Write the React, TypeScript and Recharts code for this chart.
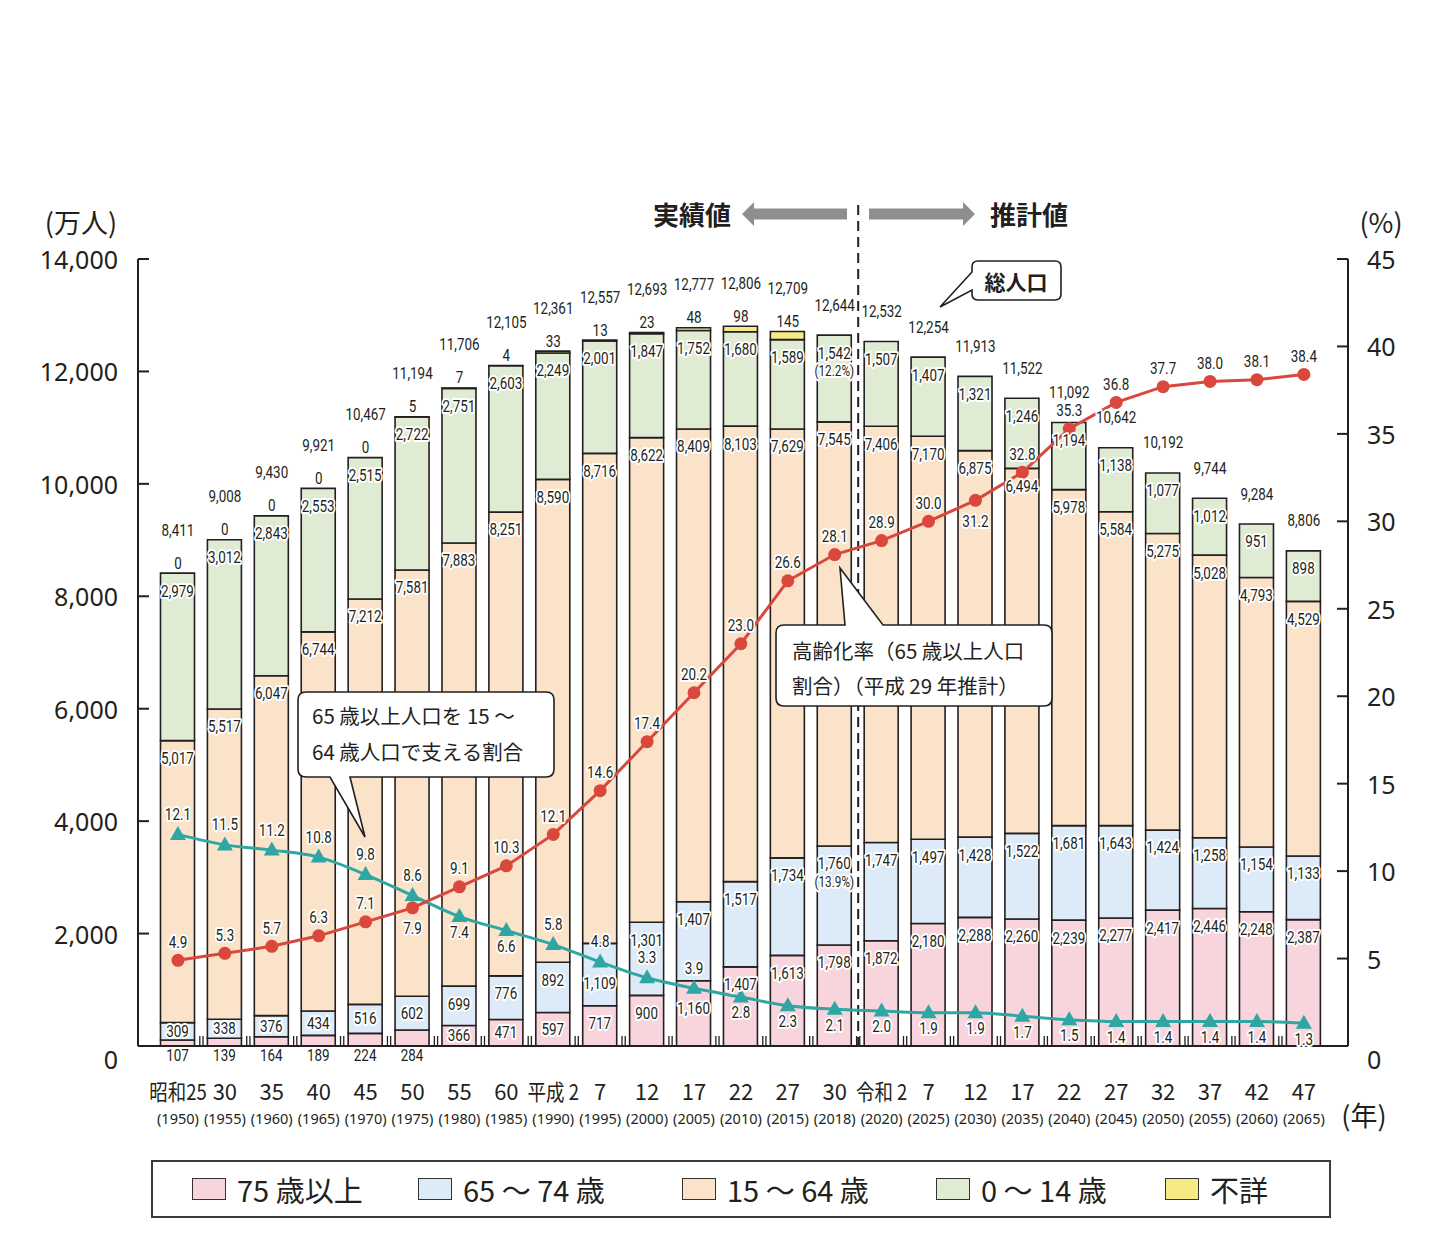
import React from 'react'
import { ComposedChart, Bar, Line, XAxis, YAxis, LabelList, ReferenceLine } from 'recharts'

// categories
const years = ['1950', '1955', '1960', '1965', '1970', '1975', '1980', '1985', '1990', '1995', '2000', '2005', '2010', '2015', '2018', '2020', '2025', '2030', '2035', '2040', '2045', '2050', '2055', '2060', '2065']
const eraLabels = ['昭和25', '30', '35', '40', '45', '50', '55', '60', '平成 2', '7', '12', '17', '22', '27', '30', '令和 2', '7', '12', '17', '22', '27', '32', '37', '42', '47']

// population (万人)
const over75 = [107, 139, 164, 189, 224, 284, 366, 471, 597, 717, 900, 1160, 1407, 1613, 1798, 1872, 2180, 2288, 2260, 2239, 2277, 2417, 2446, 2387, 2248]
const age65to74 = [309, 338, 376, 434, 516, 602, 699, 776, 892, 1109, 1301, 1407, 1517, 1734, 1760, 1747, 1497, 1428, 1522, 1681, 1643, 1424, 1258, 1154, 1133]
const age15to64 = [5017, 5517, 6047, 6744, 7212, 7581, 7883, 8251, 8590, 8716, 8622, 8409, 8103, 7629, 7545, 7406, 7170, 6875, 6494, 5978, 5584, 5275, 5028, 4793, 4529]
const age0to14 = [2979, 3012, 2843, 2553, 2515, 2722, 2751, 2603, 2249, 2001, 1847, 1752, 1680, 1589, 1542, 1507, 1407, 1321, 1246, 1194, 1138, 1077, 1012, 951, 898]
const unknownAge = [0, 0, 0, 0, 0, 5, 7, 4, 33, 13, 23, 48, 98, 145, null, null, null, null, null, null, null, null, null, null, null]
const totals = [8411, 9008, 9430, 9921, 10467, 11194, 11706, 12105, 12361, 12557, 12693, 12777, 12806, 12709, 12644, 12532, 12254, 11913, 11522, 11092, 10642, 10192, 9744, 9284, 8806]

// ratios (%)
const agingRate = [4.9, 5.3, 5.7, 6.3, 7.1, 7.9, 9.1, 10.3, 12.1, 14.6, 17.4, 20.2, 23.0, 26.6, 28.1, 28.9, 30.0, 31.2, 32.8, 35.3, 36.8, 37.7, 38.0, 38.1, 38.4]
const supportRatio = [12.1, 11.5, 11.2, 10.8, 9.8, 8.6, 7.4, 6.6, 5.8, 4.8, 3.9, 3.3, 2.8, 2.3, 2.1, 2.0, 1.9, 1.9, 1.7, 1.5, 1.4, 1.4, 1.4, 1.4, 1.3]

// notes printed under some values
const notes0to14: Record<number, string> = { 14: '(12.2%)' }
const notes65to74: Record<number, string> = { 14: '(13.9%)' }
// label texts as printed in the source where they differ from the plotted value
const printedText: Record<string, string> = { 'over75-23': '2,248', 'over75-24': '2,387', 'support-10': '3.3', 'support-11': '3.9' }

const leftTicks = [0, 2000, 4000, 6000, 8000, 10000, 12000, 14000]
const rightTicks = [0, 5, 10, 15, 20, 25, 30, 35, 40, 45]

const data = years.map((year, i) => ({
  year,
  over75: over75[i],
  age65to74: age65to74[i],
  age15to64: age15to64[i],
  age0to14: age0to14[i],
  unknownAge: unknownAge[i],
  total: totals[i],
  aging: agingRate[i],
  support: supportRatio[i],
}))

const series = [
  { key: 'over75', name: '75 歳以上', color: '#f8d4dc', notes: {} as Record<number, string>, legendWidth: 226 },
  { key: 'age65to74', name: '65 ～ 74 歳', color: '#dcebf7', notes: notes65to74, legendWidth: 264 },
  { key: 'age15to64', name: '15 ～ 64 歳', color: '#fbe3ca', notes: {} as Record<number, string>, legendWidth: 254 },
  { key: 'age0to14', name: '0 ～ 14 歳', color: '#dfebd2', notes: notes0to14, legendWidth: 229 },
  { key: 'unknownAge', name: '不詳', color: '#f6ea84', notes: {} as Record<number, string>, legendWidth: 120 },
]

const INK = '#231f20'
const RED = '#d9473d'
const TEAL = '#2ea6a3'
const JP = "'Noto Sans CJK JP', 'Noto Sans', sans-serif"
const AXIS = "'Noto Sans', 'Noto Sans CJK JP', sans-serif"
const NUM = "Roboto, 'Noto Sans', sans-serif"

const W = 1444
const H = 1254
const PLOT_L = 138
const PLOT_R = 1348
const PAD_L = 16.5
const PAD_R = 20.7
const BAND = (PLOT_R - PLOT_L - PAD_L - PAD_R) / years.length

const belowAging = new Set([5, 17])
const belowSupport = new Set([6, 7, 12, 13, 14, 15, 16, 17, 18, 19, 20, 21, 22, 23, 24])
const extraDrop: Record<string, number> = { 'age65to74-9': 22, 'over75-11': 10 }

function box(props: any) {
  const vb = props.viewBox || {}
  return {
    x: props.x ?? vb.x ?? 0,
    y: props.y ?? vb.y ?? 0,
    width: props.width ?? vb.width ?? 0,
    height: props.height ?? vb.height ?? 0,
  }
}

// condensed number label with a white halo
function Halo({ x, y, children, size = 16 }: any) {
  return (
    <text transform={`translate(${x} ${y}) scale(0.84 1)`} textAnchor="middle" dominantBaseline="central"
      fontSize={size} fontFamily={NUM} fill={INK} stroke="#fff" strokeWidth={4} strokeLinejoin="round" paintOrder="stroke">
      {children}
    </text>
  )
}

const fmt = (v: number) => v.toLocaleString('en-US')

function segmentLabel(key: string, values: (number | null)[], notes: Record<number, string>) {
  return (props: any) => {
    const i = props.index
    const v = values[i]
    if (v == null || key === 'unknownAge') return null
    const { x, y, width, height } = box(props)
    const text = printedText[`${key}-${i}`] ?? fmt(v)
    const cx = x + width / 2
    // segments too thin for a label get it under the axis
    let ly = height < 17 ? y + height + 10 : y + Math.min(18, height / 2)
    ly += extraDrop[`${key}-${i}`] || 0
    return (
      <g key={`${key}-${i}`}>
        <Halo x={cx} y={ly}>{text}</Halo>
        {notes[i] && <Halo x={cx} y={ly + 18} size={14}>{notes[i]}</Halo>}
      </g>
    )
  }
}

function TotalLabel(props: any) {
  const i = props.index
  const { x, y } = box(props)
  const u = unknownAge[i]
  return (
    <g key={`total-${i}`}>
      {u != null && <Halo x={x} y={y - 10}>{fmt(u)}</Halo>}
      <Halo x={x} y={u != null ? y - 43 : y - 30}>{fmt(totals[i])}</Halo>
    </g>
  )
}

function AgingLabel(props: any) {
  const i = props.index
  const { x, y } = box(props)
  return <Halo key={`ag-${i}`} x={x} y={belowAging.has(i) ? y + 21 : y - 18}>{agingRate[i].toFixed(1)}</Halo>
}

function SupportLabel(props: any) {
  const i = props.index
  const { x, y } = box(props)
  const text = printedText[`support-${i}`] ?? supportRatio[i].toFixed(1)
  return <Halo key={`sp-${i}`} x={x} y={belowSupport.has(i) ? y + 16 : y - 20}>{text}</Halo>
}

function Triangle(props: any) {
  const { cx, cy, index } = props
  if (cx == null || cy == null) return null
  return <polygon key={`tri-${index}`} points={`${cx},${cy - 8.5} ${cx - 8},${cy + 5.5} ${cx + 8},${cy + 5.5}`} fill={TEAL} />
}

function LeftTick(props: any) {
  const { x, y, payload } = props
  return (
    <g>
      <line x1={x} x2={x + 11} y1={y} y2={y} stroke={INK} strokeWidth={2} />
      <text x={x - 20} y={payload.value === 0 ? y + 13 : y} textAnchor="end" dominantBaseline="central"
        fontSize={25} fontFamily={AXIS} fill={INK}>{fmt(payload.value)}</text>
    </g>
  )
}

function RightTick(props: any) {
  const { x, y, payload } = props
  return (
    <g>
      <line x1={x - 11} x2={x} y1={y} y2={y} stroke={INK} strokeWidth={2} />
      <text x={x + 19} y={payload.value === 0 ? y + 13 : y} textAnchor="start" dominantBaseline="central"
        fontSize={25} fontFamily={AXIS} fill={INK}>{payload.value}</text>
    </g>
  )
}

function CategoryTick(props: any) {
  const { x, y, payload } = props
  const i = payload.index ?? years.indexOf(payload.value)
  const edge = x + BAND / 2
  const label = eraLabels[i]
  const hasKanji = /[^\d\s]/.test(label)
  return (
    <g>
      {i < years.length - 1 && [-1.6, 1.6].map((d) => (
        <line key={d} x1={edge + d} x2={edge + d} y1={y - 10} y2={y} stroke={INK} strokeWidth={1.3} />
      ))}
      <text transform={`translate(${x} ${y + 44}) scale(${hasKanji ? 0.84 : 1} 1)`} textAnchor="middle" dominantBaseline="central"
        fontSize={22} fontFamily={JP} fill={INK}>
        {label}
      </text>
      <text x={x} y={y + 72} textAnchor="middle" dominantBaseline="central" fontSize={14.5} fontFamily={AXIS} fill={INK}>
        ({years[i]})
      </text>
    </g>
  )
}

function Overlay() {
  const t = { fontFamily: JP, fill: INK }
  return (
    <svg width={W} height={H} style={{ position: 'absolute', left: 0, top: 0, pointerEvents: 'none' }}>
      <text x={81} y={221} textAnchor="middle" dominantBaseline="central" fontSize={27} {...t}>(万人)</text>
      <text x={1381} y={221} textAnchor="middle" dominantBaseline="central" fontSize={27} {...t}>(%)</text>
      <text x={1364} y={1114} textAnchor="middle" dominantBaseline="central" fontSize={27} {...t}>(年)</text>

      <polygon points="742,214 754,202 754,208.5 847,208.5 847,219.5 754,219.5 754,226" fill="#8e8e8e" />
      <polygon points="869,208.5 963,208.5 963,202 975,214 963,226 963,219.5 869,219.5" fill="#8e8e8e" />
      <text x={692} y={213} textAnchor="middle" dominantBaseline="central" fontSize={26} fontWeight={700} {...t}>実績値</text>
      <text x={1029} y={213} textAnchor="middle" dominantBaseline="central" fontSize={26} fontWeight={700} {...t}>推計値</text>

      <path d="M978,261 H1055 Q1061,261 1061,267 V294 Q1061,300 1055,300 H978 Q972,300 972,294 V290 L940,307 L972,272 V267 Q972,261 978,261 Z"
        fill="#fff" stroke={INK} strokeWidth={1.6} />
      <text x={1016} y={281} textAnchor="middle" dominantBaseline="central" fontSize={21} fontWeight={700} {...t}>総人口</text>

      <path d="M306,692 H546 Q554,692 554,700 V769 Q554,777 546,777 H350 L365,837 L330,777 H306 Q298,777 298,769 V700 Q298,692 306,692 Z"
        fill="#fff" stroke={INK} strokeWidth={1.6} />
      <text x={312} y={715} dominantBaseline="central" fontSize={20.5} {...t}>65 歳以上人口を 15 ～</text>
      <text x={312} y={751} dominantBaseline="central" fontSize={20.5} {...t}>64 歳人口で支える割合</text>

      <path d="M784,625 H845 L840,568 L883,625 H1044 Q1052,625 1052,633 V698 Q1052,706 1044,706 H784 Q776,706 776,698 V633 Q776,625 784,625 Z"
        fill="#fff" stroke={INK} strokeWidth={1.6} />
      <text x={792} y={650} dominantBaseline="central" fontSize={20.5} {...t}>高齢化率（65 歳以上人口</text>
      <text x={792} y={685} dominantBaseline="central" fontSize={20.5} {...t}>割合）（平成 29 年推計）</text>
    </svg>
  )
}

function Legend() {
  return (
    <div style={{
      position: 'absolute', left: 151, top: 1160, width: 1180, height: 58, boxSizing: 'border-box',
      border: `2px solid #3a3a3a`, display: 'flex', alignItems: 'center', paddingLeft: 39,
      fontFamily: JP, fontSize: 29, color: INK,
    }}>
      {series.map((s) => (
        <div key={s.key} style={{ display: 'flex', alignItems: 'center', width: s.legendWidth, flex: 'none' }}>
          <span style={{ display: 'inline-block', width: 34, height: 22, boxSizing: 'border-box', background: s.color, border: `1.5px solid #333`, marginRight: 11 }} />
          <span style={{ whiteSpace: 'nowrap' }}>{s.name}</span>
        </div>
      ))}
    </div>
  )
}

export default function App() {
  const values: Record<string, (number | null)[]> = { over75, age65to74, age15to64, age0to14, unknownAge }
  return (
    <div style={{ position: 'absolute', left: 0, top: 0, width: W, height: H, background: '#fff' }}>
      <ComposedChart width={W} height={H} data={data} margin={{ top: 259, right: 0, bottom: 128, left: 0 }} barSize={34}>
        <XAxis dataKey="year" height={80} padding={{ left: PAD_L, right: PAD_R }} interval={0}
          tickLine={false} tickSize={0} tickMargin={0} axisLine={{ stroke: INK, strokeWidth: 2 }} tick={<CategoryTick />} />
        <YAxis yAxisId="left" width={PLOT_L} domain={[0, 14000]} ticks={leftTicks} interval={0}
          tickLine={false} tickSize={0} tickMargin={0} axisLine={{ stroke: INK, strokeWidth: 2 }} tick={<LeftTick />} />
        <YAxis yAxisId="right" orientation="right" width={W - PLOT_R} domain={[0, 45]} ticks={rightTicks} interval={0}
          tickLine={false} tickSize={0} tickMargin={0} axisLine={{ stroke: INK, strokeWidth: 2 }} tick={<RightTick />} />

        {series.map((s) => (
          <Bar key={s.key} yAxisId="left" dataKey={s.key} stackId="pop" fill={s.color} stroke={INK} strokeWidth={1.6}
            isAnimationActive={false}>
            <LabelList dataKey={s.key} content={segmentLabel(s.key, values[s.key], s.notes)} />
          </Bar>
        ))}

        <ReferenceLine yAxisId="left" segment={[{ x: '2018', y: 14960 }, { x: '2018', y: 0 }]} position="end"
          stroke={INK} strokeWidth={2} strokeDasharray="10 6" ifOverflow="visible" />

        <Line yAxisId="left" dataKey="total" stroke="none" dot={false} activeDot={false} isAnimationActive={false} legendType="none">
          <LabelList dataKey="total" content={<TotalLabel />} />
        </Line>
        <Line yAxisId="right" dataKey="support" type="monotone" stroke={TEAL} strokeWidth={3} dot={<Triangle />}
          activeDot={false} isAnimationActive={false}>
          <LabelList dataKey="support" content={<SupportLabel />} />
        </Line>
        <Line yAxisId="right" dataKey="aging" stroke={RED} strokeWidth={3} dot={{ r: 6.5, fill: RED, stroke: RED, strokeWidth: 0 }}
          activeDot={false} isAnimationActive={false}>
          <LabelList dataKey="aging" content={<AgingLabel />} />
        </Line>
      </ComposedChart>
      <Overlay />
      <Legend />
    </div>
  )
}
